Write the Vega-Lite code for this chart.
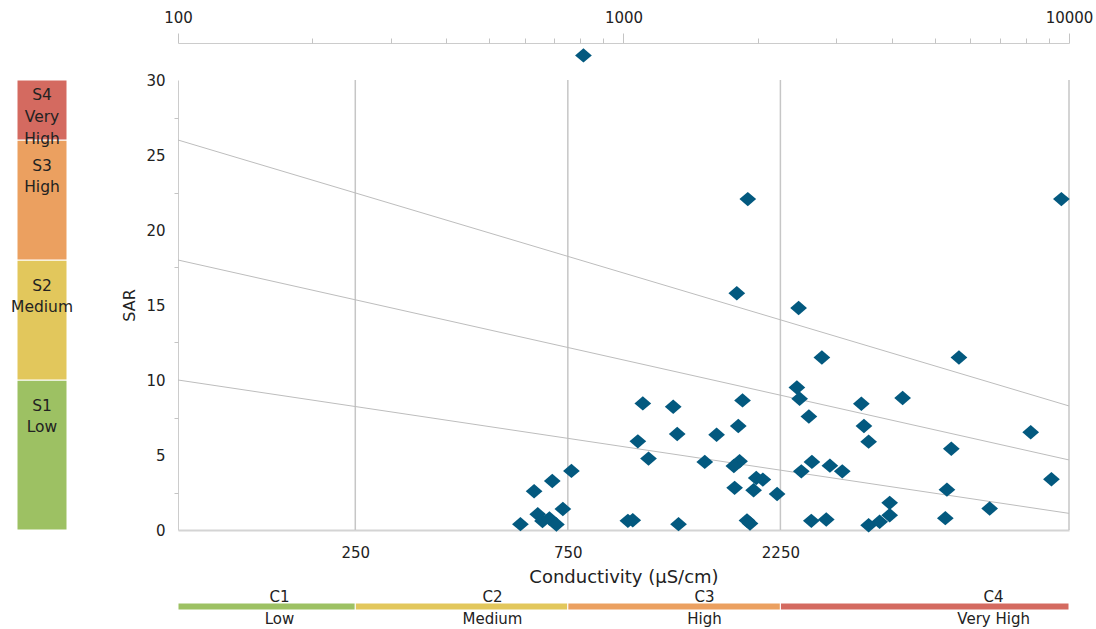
{
  "$schema": "https://vega.github.io/schema/vega-lite/v6.json",
  "background": "white",
  "padding": {"left": 11, "top": 10, "right": 5, "bottom": 5},
  "config": {
    "view": {"stroke": null},
    "font": "DejaVu Sans",
    "axis": {
      "labelFont": "DejaVu Sans",
      "labelFontSize": 15,
      "labelColor": "#222222",
      "titleFont": "DejaVu Sans",
      "titleColor": "#222222",
      "titleFontWeight": "normal",
      "grid": false,
      "domainColor": "#cccccc",
      "tickColor": "#c4c4c4"
    }
  },
  "datasets": {
    "samples": [
      {"ec": 813, "sar": 31.64}, {"ec": 1901, "sar": 22.06}, {"ec": 9614, "sar": 22.06},
      {"ec": 1796, "sar": 15.78}, {"ec": 2472, "sar": 14.8}, {"ec": 2788, "sar": 11.5},
      {"ec": 5662, "sar": 11.5}, {"ec": 2450, "sar": 9.5}, {"ec": 2485, "sar": 8.75},
      {"ec": 1850, "sar": 8.64}, {"ec": 1105, "sar": 8.44}, {"ec": 1293, "sar": 8.22},
      {"ec": 3419, "sar": 8.42}, {"ec": 4232, "sar": 8.8}, {"ec": 2607, "sar": 7.57},
      {"ec": 8204, "sar": 6.52}, {"ec": 1810, "sar": 6.93}, {"ec": 3465, "sar": 6.93},
      {"ec": 1618, "sar": 6.35}, {"ec": 1320, "sar": 6.4}, {"ec": 1077, "sar": 5.91},
      {"ec": 3550, "sar": 5.89}, {"ec": 5443, "sar": 5.42}, {"ec": 1138, "sar": 4.76},
      {"ec": 1522, "sar": 4.54}, {"ec": 1822, "sar": 4.58}, {"ec": 1769, "sar": 4.27},
      {"ec": 2648, "sar": 4.54}, {"ec": 2906, "sar": 4.29}, {"ec": 3098, "sar": 3.91},
      {"ec": 2507, "sar": 3.91}, {"ec": 764, "sar": 3.94}, {"ec": 692, "sar": 3.27},
      {"ec": 1986, "sar": 3.47}, {"ec": 2055, "sar": 3.36}, {"ec": 9132, "sar": 3.38},
      {"ec": 630, "sar": 2.58}, {"ec": 1776, "sar": 2.81}, {"ec": 1959, "sar": 2.65},
      {"ec": 2212, "sar": 2.4}, {"ec": 5321, "sar": 2.69}, {"ec": 3958, "sar": 1.81},
      {"ec": 731, "sar": 1.4}, {"ec": 6636, "sar": 1.43}, {"ec": 642, "sar": 1.05},
      {"ec": 3958, "sar": 0.98}, {"ec": 5277, "sar": 0.79}, {"ec": 587, "sar": 0.39},
      {"ec": 658, "sar": 0.6}, {"ec": 682, "sar": 0.77}, {"ec": 707, "sar": 0.37},
      {"ec": 1023, "sar": 0.61}, {"ec": 1049, "sar": 0.65}, {"ec": 1329, "sar": 0.39},
      {"ec": 1893, "sar": 0.63}, {"ec": 1923, "sar": 0.43}, {"ec": 2640, "sar": 0.61},
      {"ec": 2852, "sar": 0.7}, {"ec": 3550, "sar": 0.32}, {"ec": 3758, "sar": 0.55}
    ],
    "hazardLines": [
      {"boundary": "S1/S2", "ec": 100, "sar": 10}, {"boundary": "S1/S2", "ec": 10000, "sar": 1.11},
      {"boundary": "S2/S3", "ec": 100, "sar": 18}, {"boundary": "S2/S3", "ec": 10000, "sar": 4.67},
      {"boundary": "S3/S4", "ec": 100, "sar": 26}, {"boundary": "S3/S4", "ec": 10000, "sar": 8.27}
    ],
    "ecLimits": [{"ec": 250}, {"ec": 750}, {"ec": 2250}, {"ec": 10000}],
    "sodiumClasses": [
      {"level": "1", "lo": 0, "hi": 10, "label": "S1\nLow"},
      {"level": "2", "lo": 10, "hi": 18, "label": "S2\nMedium"},
      {"level": "3", "lo": 18, "hi": 26, "label": "S3\nHigh"},
      {"level": "4", "lo": 26, "hi": 30, "label": "S4\nVery\nHigh"}
    ],
    "salinityClasses": [
      {"level": "1", "code": "C1", "name": "Low", "lo": 100, "hi": 250, "lx": 169},
      {"level": "2", "code": "C2", "name": "Medium", "lo": 250, "hi": 750, "lx": 508},
      {"level": "3", "code": "C3", "name": "High", "lo": 750, "hi": 2250, "lx": 1520},
      {"level": "4", "code": "C4", "name": "Very High", "lo": 2250, "hi": 10000, "lx": 6773}
    ]
  },
  "bounds": "flush",
  "spacing": 111,
  "hconcat": [
    {
      "width": 50,
      "height": 450,
      "data": {"name": "sodiumClasses"},
      "layer": [
        {
          "mark": {"type": "rect", "stroke": "white", "strokeWidth": 1},
          "encoding": {
            "y": {"field": "lo", "type": "quantitative", "scale": {"domain": [0, 30]}, "axis": null},
            "y2": {"field": "hi"},
            "color": {
              "field": "level", "type": "nominal", "legend": null,
              "scale": {"domain": ["1", "2", "3", "4"], "range": ["#9dc163", "#e2c75c", "#eba060", "#d46a60"]}
            }
          }
        },
        {
          "transform": [{"filter": "datum.level != '4'"}],
          "mark": {"type": "text", "lineBreak": "\n", "lineHeight": 21.3, "fontSize": 15.5, "color": "#222222", "baseline": "middle", "dy": 26},
          "encoding": {
            "y": {"field": "hi", "type": "quantitative"},
            "text": {"field": "label"}
          }
        },
        {
          "transform": [{"filter": "datum.level == '4'"}],
          "mark": {"type": "text", "lineBreak": "\n", "lineHeight": 21.8, "fontSize": 15.5, "color": "#222222", "baseline": "middle", "dy": 15},
          "encoding": {
            "y": {"field": "hi", "type": "quantitative"},
            "text": {"field": "label"}
          }
        }
      ]
    },
    {
      "bounds": "flush",
      "spacing": 73,
      "vconcat": [
        {
          "width": 891,
          "height": 450,
          "layer": [
            {
              "data": {"name": "ecLimits"},
              "mark": {"type": "rule", "color": "#c6c6c6", "strokeWidth": 1.5},
              "encoding": {
                "x": {
                  "field": "ec", "type": "quantitative",
                  "scale": {"type": "log", "domain": [100, 10000]},
                  "axis": {
                    "orient": "bottom", "values": [250, 750, 2250], "format": "d",
                    "ticks": false, "labelPadding": 15, "domainColor": "#d4d4d4", "domainWidth": 2,
                    "title": "Conductivity (μS/cm)", "titleFontSize": 18, "titlePadding": 8
                  }
                },
                "y": {"datum": 0, "type": "quantitative", "scale": {"domain": [0, 30]}, "axis": null},
                "y2": {"datum": 30}
              }
            },
            {
              "data": {"name": "hazardLines"},
              "mark": {"type": "line", "color": "#bdbdbd", "strokeWidth": 1},
              "encoding": {
                "x": {
                  "field": "ec", "type": "quantitative",
                  "axis": {
                    "orient": "top", "offset": 37, "values": [100, 1000, 10000], "format": "d",
                    "tickSize": 10, "labelPadding": 8, "labelFlush": false, "title": null
                  }
                },
                "y": {
                  "field": "sar", "type": "quantitative",
                  "axis": {
                    "orient": "left", "values": [0, 5, 10, 15, 20, 25, 30], "ticks": false,
                    "labelPadding": 13, "title": "SAR", "titleFontSize": 16, "titlePadding": 8
                  }
                },
                "detail": {"field": "boundary"}
              }
            },
            {
              "data": {"name": "samples"},
              "mark": {
                "type": "point", "filled": true, "opacity": 1, "color": "#03597f",
                "shape": "M-1,0L0,-0.86L1,0L0,0.86Z", "size": 280
              },
              "encoding": {
                "x": {
                  "field": "ec", "type": "quantitative",
                  "axis": {
                    "orient": "top", "offset": 37,
                    "values": [200, 300, 400, 500, 600, 700, 800, 900, 2000, 3000, 4000, 5000, 6000, 7000, 8000, 9000],
                    "tickSize": 5, "labels": false, "domain": false, "title": null
                  }
                },
                "y": {
                  "field": "sar", "type": "quantitative",
                  "axis": {
                    "orient": "left", "values": [2.5, 7.5, 12.5, 17.5, 22.5, 27.5],
                    "tickSize": 4, "labels": false, "domain": false, "title": null
                  }
                }
              }
            }
          ],
          "resolve": {"axis": {"x": "independent", "y": "independent"}}
        },
        {
          "width": 891,
          "height": 7,
          "data": {"name": "salinityClasses"},
          "layer": [
            {
              "mark": {"type": "rect", "stroke": "white", "strokeWidth": 1},
              "encoding": {
                "x": {"field": "lo", "type": "quantitative", "scale": {"type": "log", "domain": [100, 10000]}, "axis": null},
                "x2": {"field": "hi"},
                "color": {
                  "field": "level", "type": "nominal", "legend": null,
                  "scale": {"domain": ["1", "2", "3", "4"], "range": ["#9dc163", "#e2c75c", "#eba060", "#d46a60"]}
                }
              }
            },
            {
              "mark": {"type": "text", "fontSize": 15, "color": "#222222", "baseline": "middle", "dy": -10},
              "encoding": {
                "x": {"field": "lx", "type": "quantitative"},
                "text": {"field": "code"}
              }
            },
            {
              "mark": {"type": "text", "fontSize": 15, "color": "#222222", "baseline": "middle", "dy": 12.5},
              "encoding": {
                "x": {"field": "lx", "type": "quantitative"},
                "text": {"field": "name"}
              }
            }
          ]
        }
      ]
    }
  ]
}
